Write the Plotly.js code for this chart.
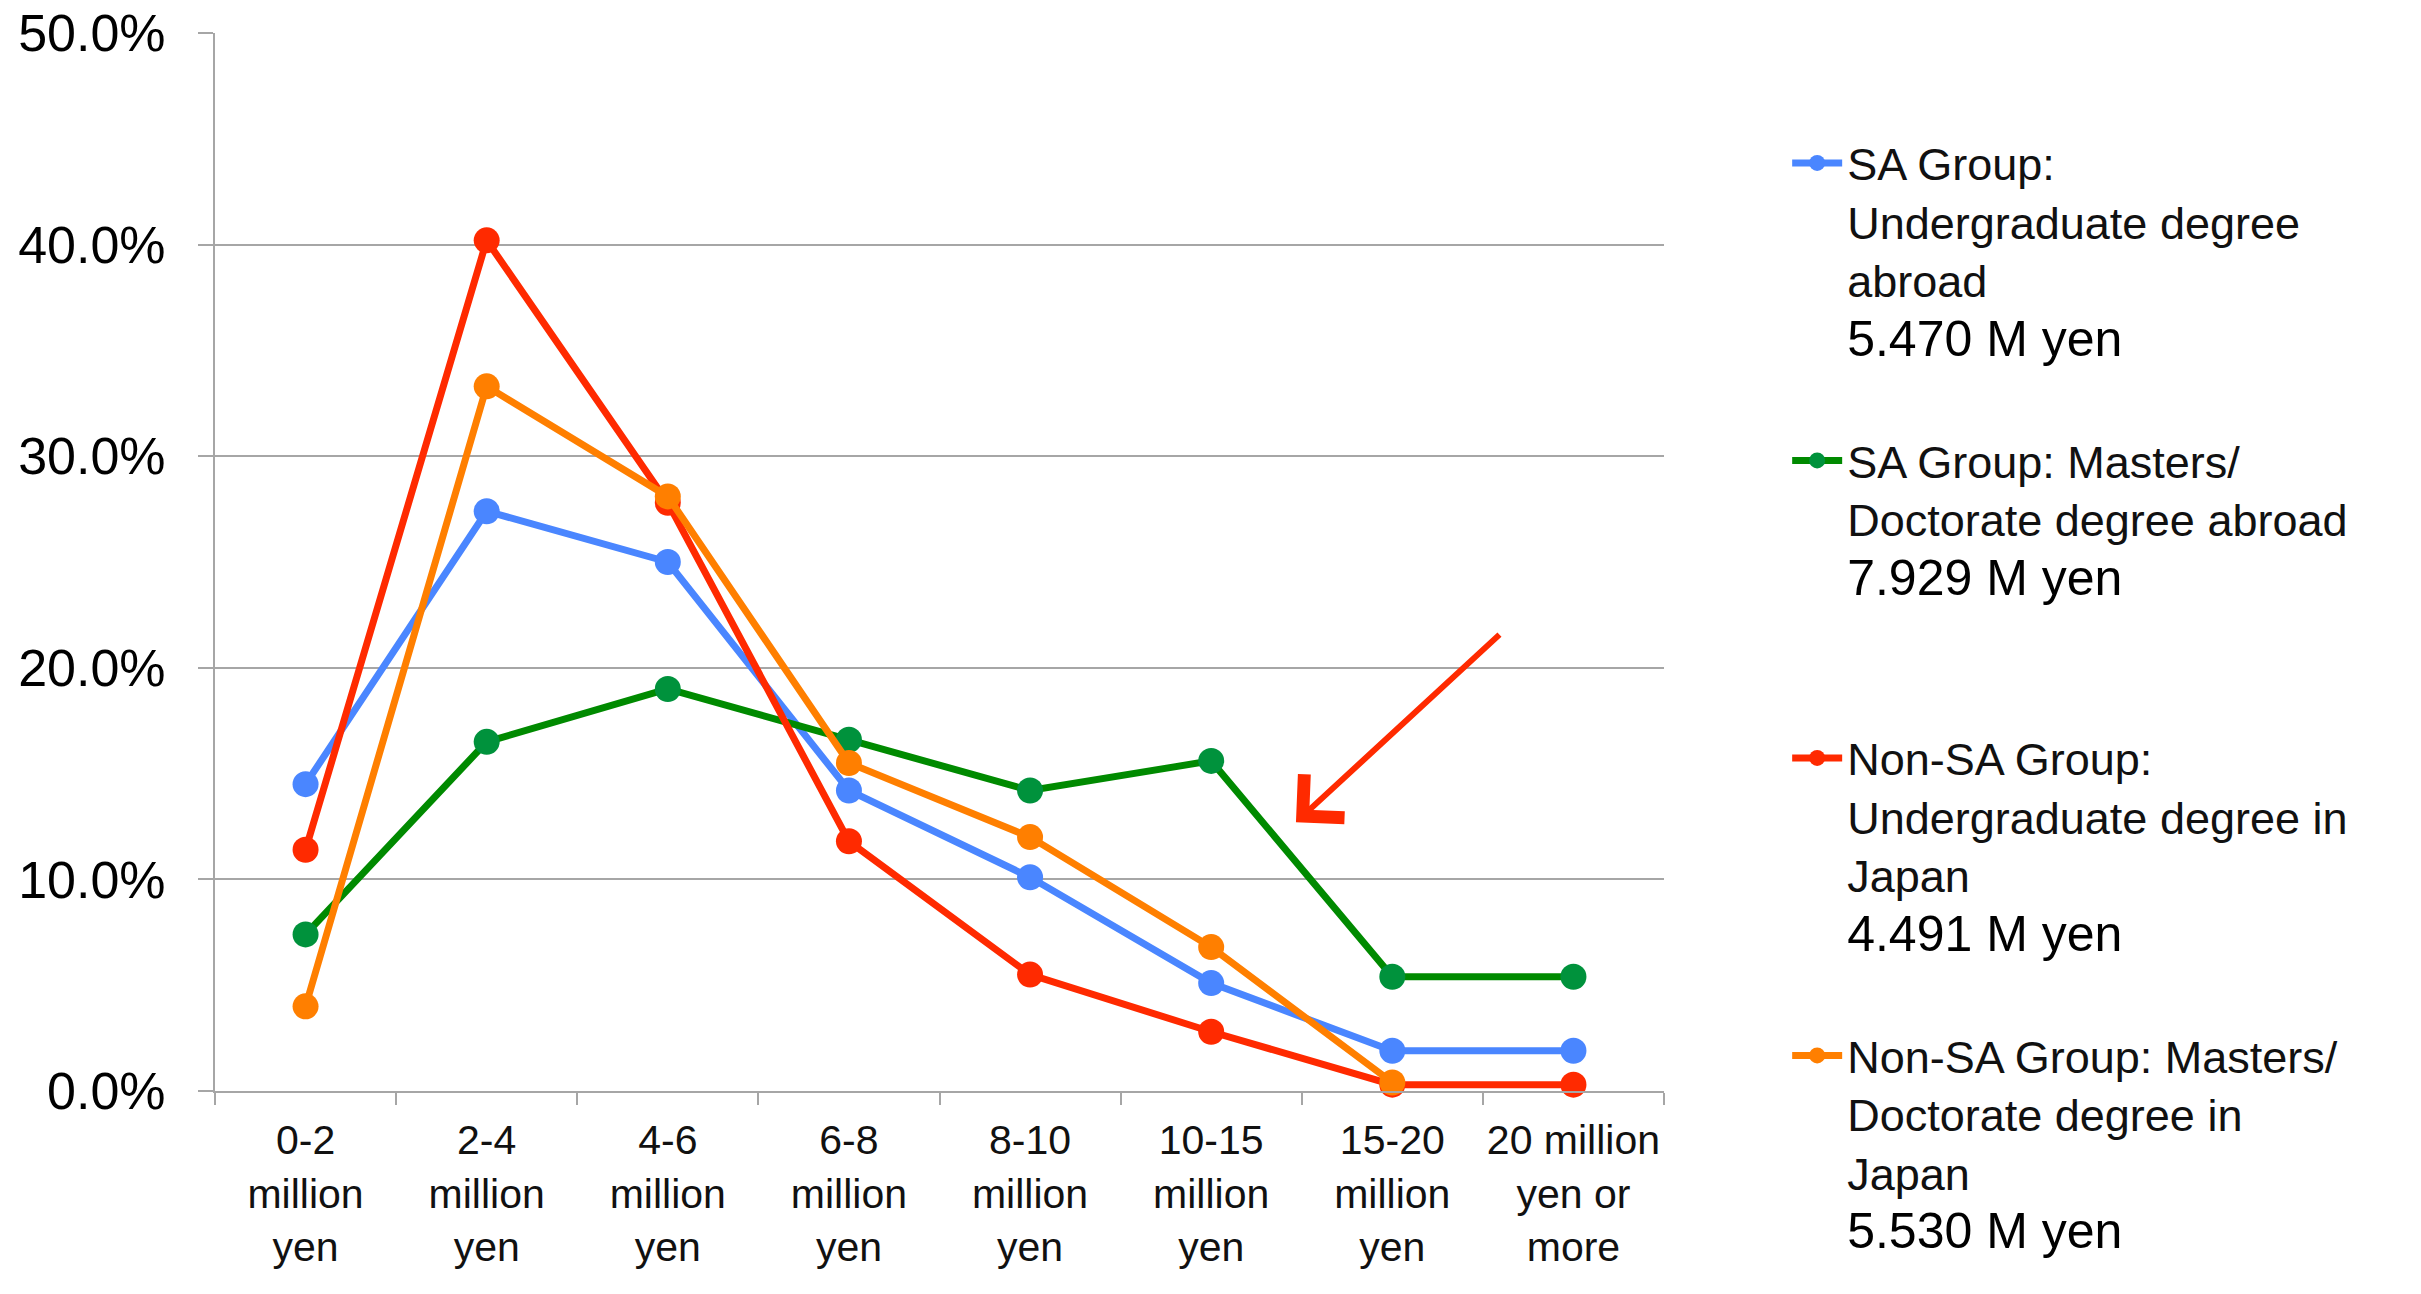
<!DOCTYPE html>
<html>
<head>
<meta charset="utf-8">
<script src="https://cdn.plot.ly/plotly-3.0.1.min.js"></script>
<style>
  html, body { margin: 0; padding: 0; background: #ffffff; }
  #chart { width: 2421px; height: 1294px; }
</style>
</head>
<body>
<div id="chart"></div>
<script>
// ---- Data ----
const categories = [
  '0-2 million yen', '2-4 million yen', '4-6 million yen', '6-8 million yen',
  '8-10 million yen', '10-15 million yen', '15-20 million yen', '20 million yen or more'
];
const tickLabels = [
  '0-2<br>million<br>yen', '2-4<br>million<br>yen', '4-6<br>million<br>yen', '6-8<br>million<br>yen',
  '8-10<br>million<br>yen', '10-15<br>million<br>yen', '15-20<br>million<br>yen', '20 million<br>yen or<br>more'
];
const yTickVals = [0, 10, 20, 30, 40, 50];
const yTickText = ['0.0%', '10.0%', '20.0%', '30.0%', '40.0%', '50.0%'];

const seriesNames = [
  'SA Group:<br>Undergraduate degree<br>abroad',
  'SA Group: Masters/<br>Doctorate degree abroad',
  'Non-SA Group:<br>Undergraduate degree in<br>Japan',
  'Non-SA Group: Masters/<br>Doctorate degree in<br>Japan'
];
const averageIncome = ['5.470 M yen', '7.929 M yen', '4.491 M yen', '5.530 M yen'];

const saUndergrad    = [14.5, 27.4, 25.0, 14.2, 10.1, 5.1, 1.9, 1.9];
const saMasters      = [7.4, 16.5, 19.0, 16.6, 14.2, 15.6, 5.4, 5.4];
const nonSaUndergrad = [11.4, 40.2, 27.8, 11.8, 5.5, 2.8, 0.3, 0.3];
const nonSaMasters   = [4.0, 33.3, 28.1, 15.5, 12.0, 6.8, 0.4, null];

// ---- Styling ----
const colors = ['#4A86FF', '#00923C', '#FF2A00', '#FF7F00'];
const lineColors = ['#4A86FF', '#008A00', '#FF2A00', '#FF7F00'];
const seriesValues = [saUndergrad, saMasters, nonSaUndergrad, nonSaMasters];
const NB = '\u00A0';
const val = s => '<span style="font-size:50px;color:#000000">' + s + '</span>';
// legend text: name lines + value line, padded so each entry is the same height
const legendNames = [
  seriesNames[0] + '<br>' + val(averageIncome[0]) + '<br>' + NB,
  seriesNames[1] + '<br>' + val(averageIncome[1]) + '<br>' + NB + '<br>' + NB,
  seriesNames[2] + '<br>' + val(averageIncome[2]) + '<br>' + NB,
  seriesNames[3] + '<br>' + val(averageIncome[3])
];

const traces = seriesValues.map((vals, i) => ({
  type: 'scatter',
  mode: 'lines+markers',
  x: categories,
  y: vals,
  name: legendNames[i],
  legendgroup: 'g' + i,
  line: { color: lineColors[i], width: 7 },
  marker: { color: colors[i], size: 26, line: { width: 0 } },
  connectgaps: false,
  cliponaxis: false
}));

const gridColor = '#A6A6A6';

const layout = {
  width: 2421,
  height: 1294,
  paper_bgcolor: '#ffffff',
  plot_bgcolor: '#ffffff',
  margin: { l: 215, r: 757, t: 33, b: 203, autoexpand: false },
  font: { family: '"Liberation Sans", Arial, Helvetica, sans-serif', color: '#000000' },
  showlegend: true,
  legend: {
    x: 1.085, xanchor: 'left',
    y: 0.911, yanchor: 'top',
    valign: 'top',
    traceorder: 'grouped',
    tracegroupgap: 2,
    maxheight: 3000,
    font: { size: 45, color: '#111111', family: '"Liberation Sans", Arial, sans-serif' },
    bgcolor: 'rgba(0,0,0,0)',
    itemwidth: 50
  },
  xaxis: {
    type: 'category',
    categoryorder: 'array',
    categoryarray: categories,
    tickvals: categories,
    ticktext: tickLabels,
    tickangle: 0,
    range: [-0.5, 7.5],
    showgrid: false,
    showline: true,
    linecolor: gridColor,
    linewidth: 2,
    ticks: 'outside',
    tickson: 'boundaries',
    ticklen: 12,
    tickwidth: 2,
    tickcolor: gridColor,
    tickfont: { size: 41, color: '#111111' },
    ticklabelstandoff: 12,
    fixedrange: true
  },
  yaxis: {
    range: [0, 50],
    tickvals: yTickVals,
    ticktext: yTickText,
    showgrid: true,
    gridcolor: gridColor,
    gridwidth: 2,
    zeroline: false,
    showline: true,
    linecolor: gridColor,
    linewidth: 2,
    ticks: 'outside',
    ticklen: 15,
    tickwidth: 2,
    tickcolor: gridColor,
    tickfont: { size: 52, color: '#000000' },
    ticklabelstandoff: 22,
    fixedrange: true
  },
  annotations: [{
    xref: 'paper', yref: 'paper',
    x: 0.746, y: 0.254,
    ax: 205, ay: -189,
    axref: 'pixel', ayref: 'pixel',
    text: '',
    showarrow: true,
    arrowhead: 4,
    arrowsize: 1.9,
    arrowwidth: 6,
    arrowcolor: '#FF2A00'
  }]
};

Plotly.newPlot('chart', traces, layout, { displayModeBar: false, staticPlot: true });
</script>
</body>
</html>
